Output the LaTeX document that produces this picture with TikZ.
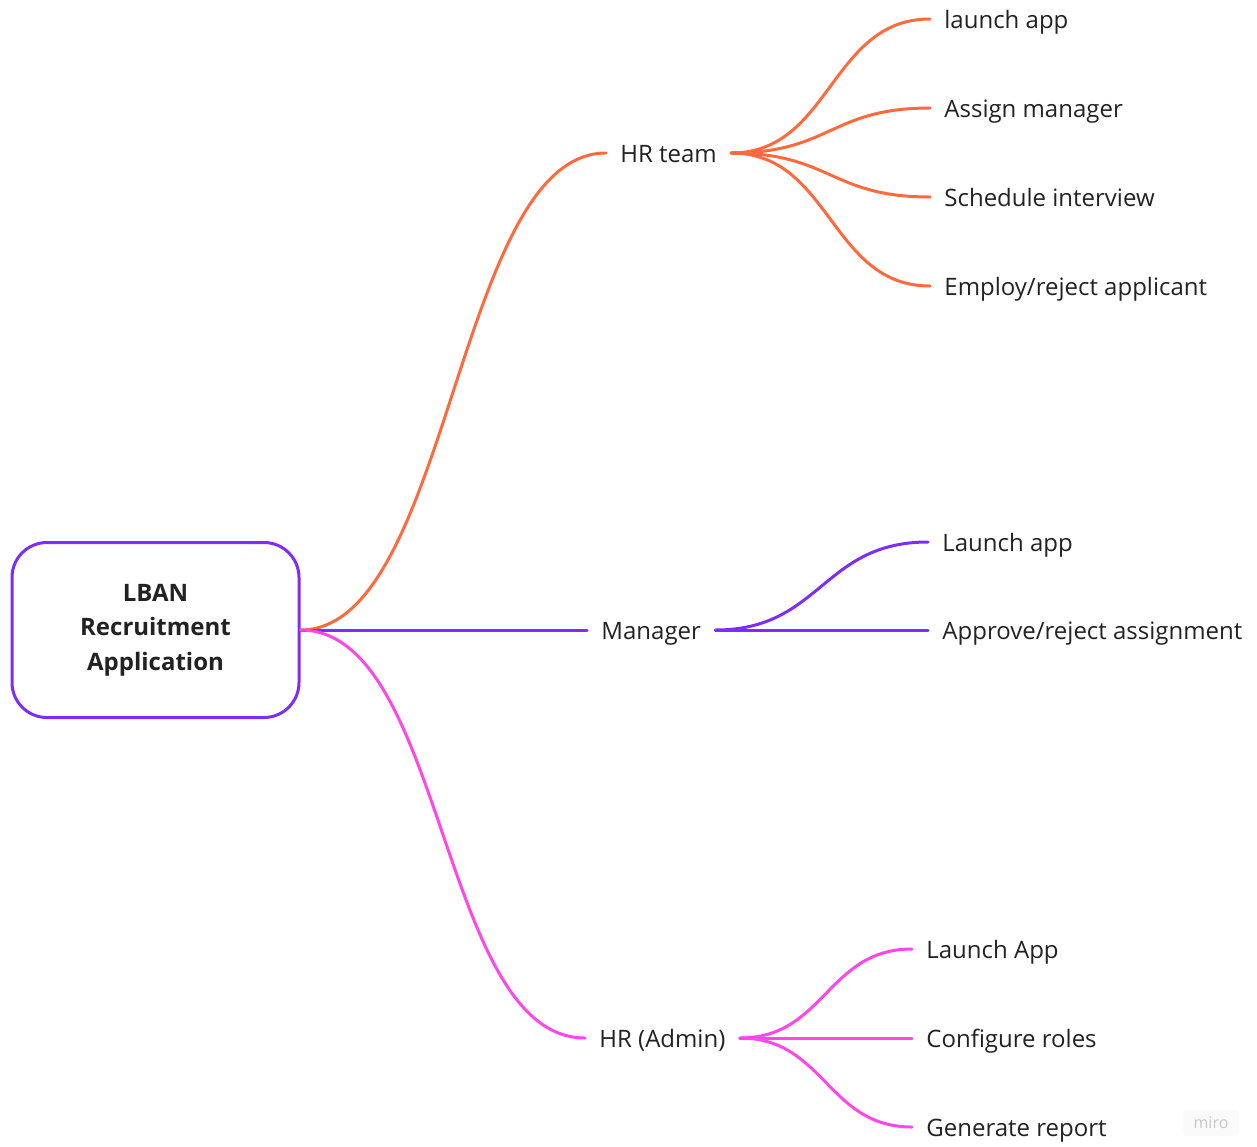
\documentclass[tikz,border=0pt]{standalone}
\usepackage{fontspec}
\setmainfont{Open Sans}
\usetikzlibrary{positioning}

\definecolor{hrorange}{RGB}{255,106,61}
\definecolor{mgrpurple}{RGB}{125,45,250}
\definecolor{adminpink}{RGB}{255,70,230}
\definecolor{txtgray}{RGB}{34,34,34}
\newcommand\mapfont{\fontsize{12pt}{17.25pt}\selectfont}

\tikzset{
  root/.style={draw=mgrpurple, line width=1.5pt, rounded corners=17.5pt,
    minimum width=143.5pt, minimum height=87.5pt, align=center,
    font=\mapfont\bfseries, text=txtgray},
  topic/.style={anchor=west, inner xsep=7pt, inner ysep=0pt,
    text height=9pt, text depth=0pt, font=\mapfont, text=txtgray},
  leaf/.style={topic},
  branch/.style={line width=1.5pt, line cap=round},
}

\begin{document}
\begin{tikzpicture}[x=0.5pt, y=-0.5pt]
\useasboundingbox (0,0) rectangle (1257,1146);

\node[root] (app) at (155.5,630) {LBAN\\Recruitment\\Application};

% second level
\node[topic] (hrteam) at (606,153) {HR team};
\node[topic] (manager) at (587,630) {Manager};
\node[topic] (admin) at (585,1038) {HR (Admin)};

% leaves
\node[leaf] (launch) at (930,19) {launch app};
\node[leaf] (assign) at (930,108) {Assign manager};
\node[leaf] (schedule) at (930,197) {Schedule interview};
\node[leaf] (employ) at (930,286) {Employ/reject applicant};

\node[leaf] (mlaunch) at (928,542) {Launch app};
\node[leaf] (approve) at (928,630) {Approve/reject assignment};

\node[leaf] (alaunch) at (912,949) {Launch App};
\node[leaf] (roles) at (912,1038) {Configure roles};
\node[leaf] (report) at (912,1127) {Generate report};

\draw[branch, hrorange] (app.east) .. controls +(150,0) and +(-150,0) .. (hrteam.west);
\draw[branch, mgrpurple] (app.east) -- (manager.west);
\draw[branch, adminpink] (app.east) .. controls +(145,0) and +(-145,0) .. (admin.west);

\foreach \leafname in {launch,assign,schedule,employ}
  \draw[branch, hrorange] (hrteam.east) .. controls +(100,0) and +(-100,0) .. (\leafname.west);
\foreach \leafname in {mlaunch,approve}
  \draw[branch, mgrpurple] (manager.east) .. controls +(106,0) and +(-106,0) .. (\leafname.west);
\foreach \leafname in {alaunch,roles,report}
  \draw[branch, adminpink] (admin.east) .. controls +(85,0) and +(-85,0) .. (\leafname.west);

\node[fill=gray!4, rounded corners=2pt, minimum width=28pt, minimum height=13pt,
  text=gray!45, font=\fontsize{8pt}{9pt}\selectfont] (badge) at (1211,1123) {miro};
\end{tikzpicture}
\end{document}
